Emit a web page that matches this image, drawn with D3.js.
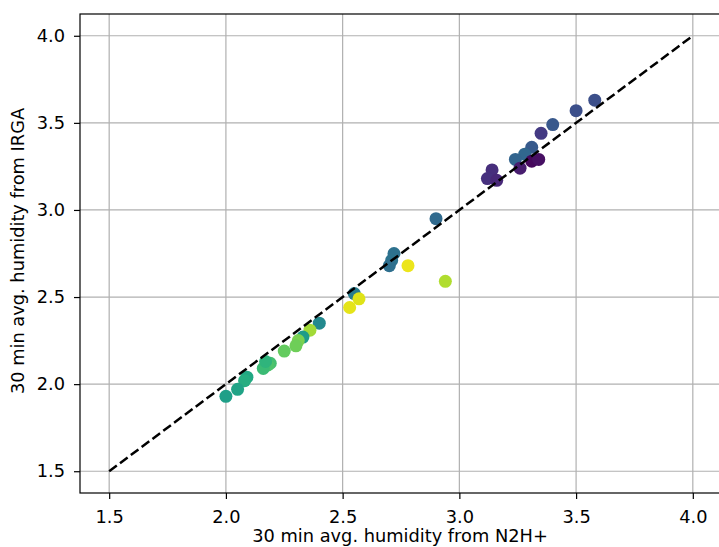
<!DOCTYPE html>
<html>
<head>
<meta charset="utf-8">
<script src="https://cdn.jsdelivr.net/npm/d3@7"></script>
<style>
  body { margin: 0; background: #fff; }
  svg { display: block; }
  text { font-family: "DejaVu Sans", sans-serif; fill: #000; }
</style>
</head>
<body>
<div id="chart"></div>
<script>
// humidity from N2H+ (x), from IRGA (y), colour value (viridis 0..1)
var xVals = [3.58, 3.50, 3.40, 3.35, 3.31, 3.28, 3.24, 3.31, 3.34, 3.26, 3.14, 3.12, 3.16,
  2.90, 2.72, 2.71, 2.70, 2.78, 2.94, 2.55, 2.57, 2.53,
  2.40, 2.36, 2.33, 2.31, 2.30, 2.25, 2.19, 2.18, 2.16, 2.17, 2.09, 2.08, 2.05, 2.00];
var yVals = [3.63, 3.57, 3.49, 3.44, 3.36, 3.32, 3.29, 3.28, 3.29, 3.24, 3.23, 3.18, 3.17,
  2.95, 2.75, 2.71, 2.68, 2.68, 2.59, 2.52, 2.49, 2.44,
  2.35, 2.31, 2.27, 2.25, 2.22, 2.19, 2.12, 2.11, 2.09, 2.13, 2.04, 2.02, 1.97, 1.93];
var cVals = [0.24, 0.24, 0.27, 0.17, 0.28, 0.33, 0.32, 0.02, 0.04, 0.08, 0.13, 0.14, 0.11,
  0.34, 0.37, 0.38, 0.36, 0.97, 0.88, 0.42, 0.95, 0.96,
  0.47, 0.86, 0.55, 0.80, 0.78, 0.76, 0.70, 0.72, 0.68, 0.65, 0.60, 0.62, 0.58, 0.56];

// 1:1 reference line
var lineVals = [1.5, 4.0];
var tickVals = [1.5, 2.0, 2.5, 3.0, 3.5, 4.0];
var xLabel = '30 min avg. humidity from N2H+';
var yLabel = '30 min avg. humidity from IRGA';

var width = 719;
var height = 547;
var margin = { top: 14, left: 80, bottom: 54 };
var plotW = 642; // right spine falls just outside the picture
var plotH = height - margin.top - margin.bottom;
var fontSize = '17.8px';

var x = d3.scaleLinear().domain([1.375, 4.125]).range([margin.left, margin.left + plotW]);
var y = d3.scaleLinear().domain([1.375, 4.125]).range([margin.top + plotH, margin.top]);

var svg = d3.select('#chart').append('svg')
  .attr('width', width).attr('height', height);

// grid
var grid = svg.append('g').attr('class', 'grid');
grid.selectAll('.gx').data(tickVals).enter().append('line')
  .attr('x1', function(d) { return x(d); }).attr('x2', function(d) { return x(d); })
  .attr('y1', margin.top).attr('y2', margin.top + plotH)
  .attr('stroke', '#b0b0b0').attr('stroke-width', 1.2);
grid.selectAll('.gy').data(tickVals).enter().append('line')
  .attr('y1', function(d) { return y(d); }).attr('y2', function(d) { return y(d); })
  .attr('x1', margin.left).attr('x2', margin.left + plotW)
  .attr('stroke', '#b0b0b0').attr('stroke-width', 1.2);

// points
svg.append('g').selectAll('circle').data(xVals).enter().append('circle')
  .attr('cx', function(d) { return x(d); })
  .attr('cy', function(d, i) { return y(yVals[i]); })
  .attr('r', 6.5)
  .attr('fill', function(d, i) { return d3.interpolateViridis(cVals[i]); });

// dashed 1:1 line
svg.append('line')
  .attr('x1', x(lineVals[0])).attr('y1', y(lineVals[0]))
  .attr('x2', x(lineVals[1])).attr('y2', y(lineVals[1]))
  .attr('stroke', '#000').attr('stroke-width', 2.5)
  .attr('stroke-dasharray', '9.5,4');

// axes
var xAxis = svg.append('g')
  .attr('transform', 'translate(0,' + (margin.top + plotH) + ')')
  .call(d3.axisBottom(x).tickValues(tickVals).tickFormat(d3.format('.1f')).tickSizeOuter(0).tickSize(6).tickPadding(11));
var yAxis = svg.append('g')
  .attr('transform', 'translate(' + margin.left + ',0)')
  .call(d3.axisLeft(y).tickValues(tickVals).tickFormat(d3.format('.1f')).tickSizeOuter(0).tickSize(6).tickPadding(9));
[xAxis, yAxis].forEach(function(a) {
  a.select('.domain').remove();
  a.attr('font-size', null).attr('font-family', null);
  a.selectAll('line').attr('stroke-width', 1.2);
  a.selectAll('text').style('font-size', fontSize).style('fill', '#000');
});

// frame
svg.append('rect')
  .attr('x', margin.left).attr('y', margin.top)
  .attr('width', plotW).attr('height', plotH)
  .attr('fill', 'none').attr('stroke', '#000').attr('stroke-width', 1.2);

// axis labels
svg.append('text')
  .attr('x', 400).attr('y', 542)
  .attr('text-anchor', 'middle').style('font-size', fontSize)
  .text(xLabel);
svg.append('text')
  .attr('transform', 'translate(24,251) rotate(-90)')
  .attr('text-anchor', 'middle').style('font-size', fontSize)
  .text(yLabel);
</script>
</body>
</html>
